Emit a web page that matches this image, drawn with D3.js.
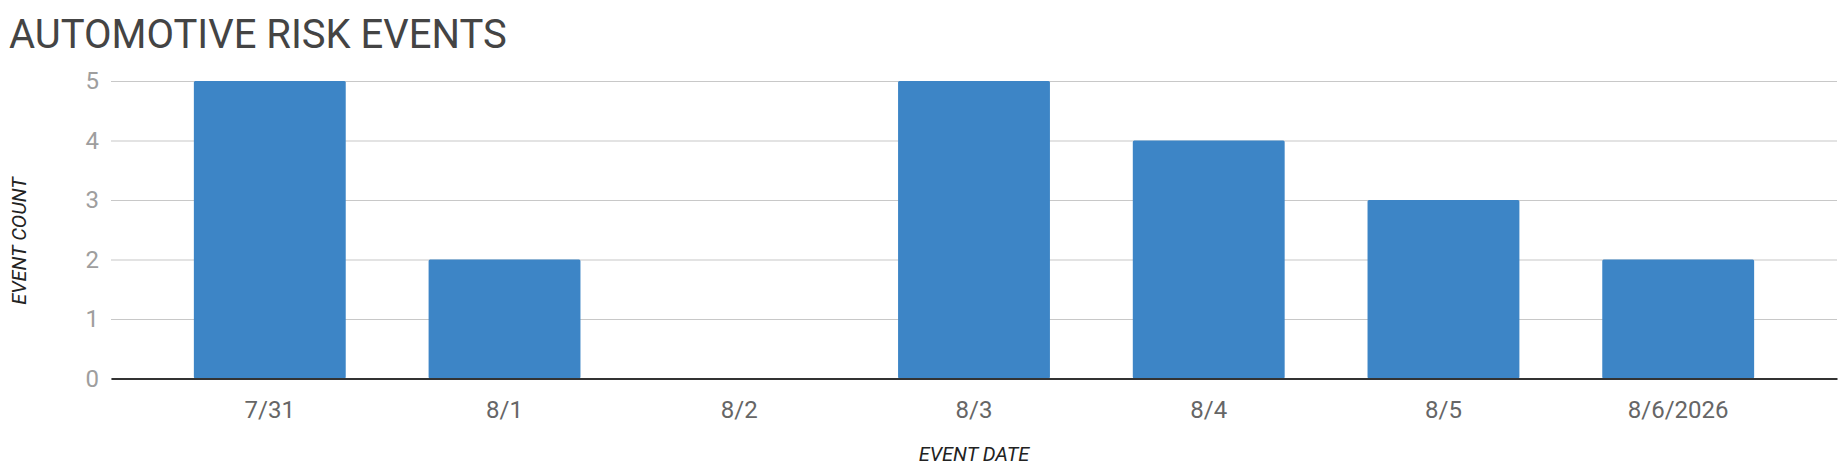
<!DOCTYPE html>
<html>
<head>
<meta charset="utf-8">
<script src="https://cdn.jsdelivr.net/npm/d3@7"></script>
<style>
  html, body { margin: 0; padding: 0; background: #fff; }
  svg { display: block; font-family: Roboto, "Noto Sans", sans-serif; }
</style>
</head>
<body>
<svg id="chart" width="1844" height="474"></svg>
<script>
const categories = ["7/31", "8/1", "8/2", "8/3", "8/4", "8/5", "8/6/2026"];
const eventCounts = [5, 2, 0, 5, 4, 3, 2];
const yTickValues = [0, 1, 2, 3, 4, 5];
const chartTitle = "AUTOMOTIVE RISK EVENTS";
const xTitle = "EVENT DATE";
const yTitle = "EVENT COUNT";

const data = categories.map((c, i) => ({ cat: c, val: eventCounts[i] }));

const svg = d3.select("#chart");
const plot = { left: 111, right: 1837, top: 81, bottom: 378.5 };

const x = d3.scaleBand()
  .domain(categories)
  .range([plot.left, plot.right])
  .padding(0.353);

const y = d3.scaleLinear()
  .domain([0, 5])
  .range([plot.bottom, plot.top]);

// Title
svg.append("text")
  .attr("x", 9)
  .attr("y", 48)
  .attr("fill", "#444444")
  .style("font-size", "40px")
  .text(chartTitle);

// Gridlines
const yAxis = d3.axisLeft(y).tickValues(yTickValues).tickSize(-(plot.right - plot.left)).tickPadding(12).tickFormat(d3.format("d"));
const gy = svg.append("g")
  .attr("transform", `translate(${plot.left},0)`)
  .call(yAxis);
gy.select(".domain").remove();
gy.selectAll(".tick line").attr("stroke", "#c8c8c8").attr("stroke-width", 1.2);
gy.selectAll(".tick text")
  .attr("fill", "#9e9e9e")
  .style("font-size", "24px")
  .style("font-family", "Roboto, sans-serif");

// Bars
svg.append("g")
  .selectAll("rect")
  .data(data)
  .join("rect")
  .attr("x", d => x(d.cat))
  .attr("y", d => y(d.val))
  .attr("width", x.bandwidth())
  .attr("height", d => y(0) - y(d.val))
  .attr("rx", 1.5)
  .attr("fill", "#3d85c6");

// X axis
const xAxis = d3.axisBottom(x).tickSize(0).tickPadding(22);
const gx = svg.append("g")
  .attr("transform", `translate(0,${y(0)})`)
  .call(xAxis);
gx.select(".domain").attr("stroke", "#333333").attr("stroke-width", 2);
gx.selectAll(".tick text")
  .attr("fill", "#666666")
  .style("font-size", "24px")
  .style("font-family", "Roboto, sans-serif");

// Axis titles
svg.append("text")
  .attr("x", (plot.left + plot.right) / 2)
  .attr("y", 461)
  .attr("text-anchor", "middle")
  .attr("fill", "#222222")
  .style("font-size", "20px")
  .style("font-style", "italic")
  .text(xTitle);

svg.append("text")
  .attr("transform", `translate(26,241) rotate(-90)`)
  .attr("text-anchor", "middle")
  .attr("fill", "#222222")
  .style("font-size", "20px")
  .style("font-style", "italic")
  .text(yTitle);
</script>
</body>
</html>
